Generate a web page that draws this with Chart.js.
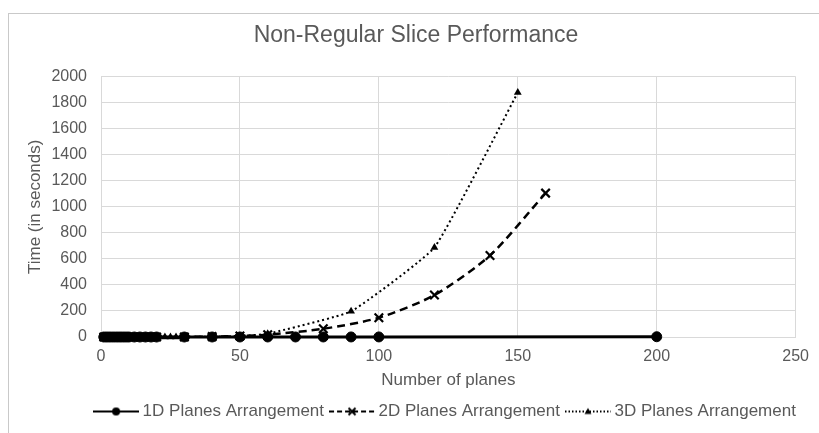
<!DOCTYPE html>
<html>
<head>
<meta charset="utf-8">
<script src="https://cdn.jsdelivr.net/npm/chart.js@4/dist/chart.umd.min.js"></script>
<style>
  html, body { margin: 0; padding: 0; background: #fff; overflow: hidden; }
  #wrap { position: relative; width: 819px; height: 433px; }
  #frame { position: absolute; left: 8px; top: 13px; width: 900px; height: 500px; border: 1px solid #c9c9c9; pointer-events: none; }
</style>
</head>
<body>
<div id="wrap">
  <canvas id="chart" width="819" height="433"></canvas>
  <div id="frame"></div>
</div>
<script>
// values
const xTicks = [0, 50, 100, 150, 200, 250];
const yTicks = [0, 200, 400, 600, 800, 1000, 1200, 1400, 1600, 1800, 2000];

const planes1D = [1, 2, 3, 4, 5, 6, 7, 8, 9, 10, 12, 14, 16, 18, 20, 30, 40, 50, 60, 70, 80, 90, 100, 200];
const time1D   = [0, 0, 0, 0, 0, 0, 0, 0, 0, 0, 0, 0, 0, 0, 0, 0, 0.1, 0.1, 0.2, 0.2, 0.3, 0.4, 0.5, 2];

const planes2D = [1, 2, 3, 4, 5, 6, 7, 8, 9, 10, 12, 14, 16, 18, 20, 30, 40, 50, 60, 80, 100, 120, 140, 160];
const time2D   = [0, 0, 0, 0, 0, 0, 0, 0, 0, 0, 0, 0, 0, 0.1, 0.1, 0.5, 3, 8, 18, 63, 148, 322, 626, 1105];

const planes3D = [1, 2, 3, 4, 5, 6, 7, 8, 9, 10, 12, 14, 16, 18, 20, 23, 25, 27, 30, 40, 50, 60, 90, 120, 150];
const time3D   = [0, 0, 0, 0, 0, 0, 0, 0, 0, 0, 0, 0, 0, 0, 0.5, 0.5, 0.6, 0.8, 1, 3, 8, 25, 197, 688, 1878];

const seriesNames = ['1D Planes Arrangement', '2D Planes Arrangement', '3D Planes Arrangement'];

const textColor = '#595959';
const gridColor = '#d9d9d9';
Chart.defaults.font.family = "'Liberation Sans', Arial, sans-serif";

function toPoints(xs, ys) {
  return xs.map((x, i) => ({ x: x, y: ys[i] }));
}

// little line + marker pictures for the legend
function makeSample(dash, marker) {
  const c = document.createElement('canvas');
  c.width = 46;
  c.height = 14;
  const g = c.getContext('2d');
  g.strokeStyle = '#000';
  g.fillStyle = '#000';
  g.lineWidth = 2.2;
  g.setLineDash(dash);
  g.beginPath();
  g.moveTo(0, 7);
  g.lineTo(46, 7);
  g.stroke();
  g.setLineDash([]);
  if (marker === 'circle') {
    g.beginPath();
    g.arc(23, 7, 4, 0, Math.PI * 2);
    g.fill();
  } else if (marker === 'x') {
    g.lineWidth = 2;
    g.beginPath();
    g.moveTo(19.5, 3.5); g.lineTo(26.5, 10.5);
    g.moveTo(26.5, 3.5); g.lineTo(19.5, 10.5);
    g.stroke();
  } else {
    g.beginPath();
    g.moveTo(23, 3.5); g.lineTo(26.5, 9.5); g.lineTo(19.5, 9.5);
    g.closePath();
    g.fill();
  }
  return c;
}

const samples = [
  makeSample([], 'circle'),
  makeSample([5, 3], 'x'),
  makeSample([1.5, 2], 'triangle')
];

// Excel-style title and legend sit a bit right of centre
const nudgeBoxes = {
  id: 'nudgeBoxes',
  afterLayout(chart) {
    chart.legend.left += 44;
    chart.legend.right += 44;
    chart.titleBlock.left += 13;
    chart.titleBlock.right += 13;
  }
};

new Chart(document.getElementById('chart'), {
  type: 'line',
  data: {
    datasets: [
      {
        label: seriesNames[0],
        data: toPoints(planes1D, time1D),
        borderColor: '#000',
        backgroundColor: '#000',
        borderWidth: 3,
        pointStyle: 'circle',
        pointRadius: 5,
        pointBorderWidth: 1,
        pointBorderColor: '#000',
        pointBackgroundColor: '#000',
        tension: 0,
        clip: false
      },
      {
        label: seriesNames[1],
        data: toPoints(planes2D, time2D),
        borderColor: '#000',
        backgroundColor: '#000',
        borderWidth: 2.5,
        borderDash: [8, 5],
        pointStyle: 'crossRot',
        pointRadius: 6,
        pointBorderWidth: 2.2,
        tension: 0.25,
        clip: false
      },
      {
        label: seriesNames[2],
        data: toPoints(planes3D, time3D),
        borderColor: '#000',
        backgroundColor: '#000',
        borderWidth: 2,
        borderDash: [2, 3],
        pointStyle: 'triangle',
        pointRadius: 4.5,
        pointBorderWidth: 0,
        tension: 0.12,
        clip: false
      }
    ]
  },
  options: {
    responsive: false,
    animation: false,
    devicePixelRatio: 1,
    layout: { padding: { left: 10, right: 23, top: 0, bottom: 3 } },
    plugins: {
      title: {
        display: true,
        text: 'Non-Regular Slice Performance',
        color: textColor,
        font: { size: 23, weight: 'normal' },
        padding: { top: 22, bottom: 27 }
      },
      legend: {
        position: 'bottom',
        labels: {
          usePointStyle: true,
          pointStyleWidth: 36,
          padding: 10,
          color: textColor,
          font: { size: 17 },
          generateLabels: () => seriesNames.map((name, i) => ({
            text: name,
            pointStyle: samples[i],
            fillStyle: '#000',
            strokeStyle: '#000',
            lineWidth: 0,
            fontColor: textColor,
            hidden: false,
            datasetIndex: i
          }))
        }
      },
      tooltip: { enabled: false }
    },
    scales: {
      x: {
        type: 'linear',
        min: xTicks[0],
        max: xTicks[xTicks.length - 1],
        afterBuildTicks: s => { s.ticks = xTicks.map(v => ({ value: v })); },
        afterFit: s => { s.height = 56; },
        ticks: { color: textColor, font: { size: 16 }, padding: 10, callback: v => String(v) },
        grid: { color: gridColor, drawTicks: false },
        border: { color: gridColor },
        title: {
          display: true,
          text: 'Number of planes',
          color: textColor,
          font: { size: 17 },
          padding: { top: 0, bottom: 2 }
        }
      },
      y: {
        min: yTicks[0],
        max: yTicks[yTicks.length - 1],
        afterBuildTicks: s => { s.ticks = yTicks.map(v => ({ value: v })); },
        afterFit: s => { s.width = 91; },
        ticks: { color: textColor, font: { size: 16 }, padding: 14, callback: v => String(v) },
        grid: { color: gridColor, drawTicks: false },
        border: { color: gridColor },
        title: {
          display: true,
          text: 'Time (in seconds)',
          color: textColor,
          font: { size: 17 },
          padding: { top: 15, bottom: 0 }
        }
      }
    }
  },
  plugins: [nudgeBoxes]
});
</script>
</body>
</html>
